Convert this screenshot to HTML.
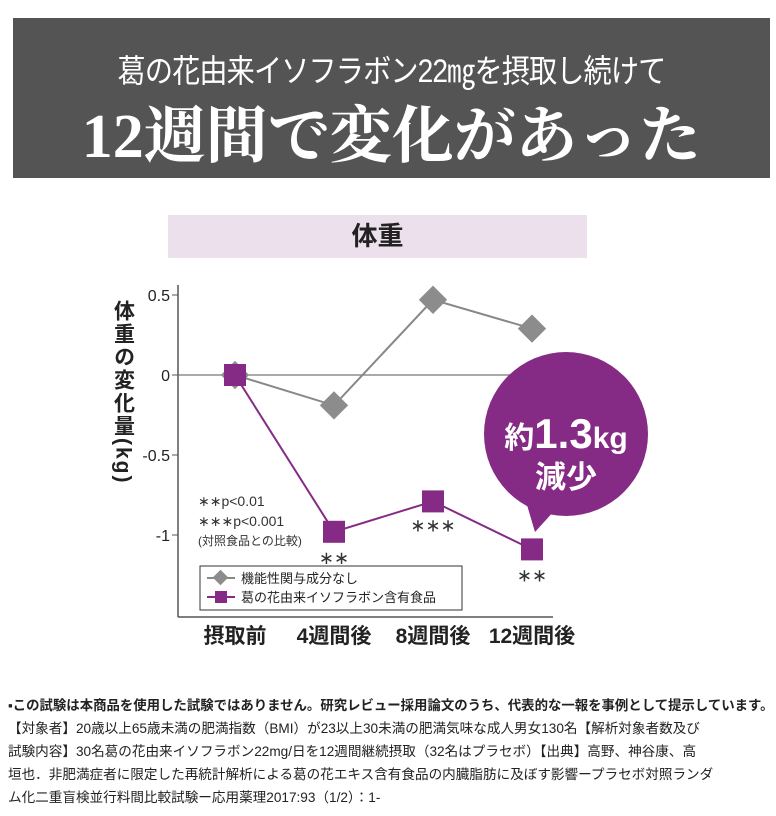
<!DOCTYPE html>
<html><head><meta charset="utf-8"><style>
body{margin:0;width:776px;height:816px;background:#fff;overflow:hidden;font-family:"Liberation Sans","Noto Sans CJK JP",sans-serif;}
#hdr{position:absolute;left:13px;top:18px;width:757px;height:160px;background:#545454;color:#fff;text-align:center;}
#sub{position:absolute;top:28px;width:100%;font-size:32px;letter-spacing:-1px;transform:scaleX(0.88);}
#ttl{position:absolute;top:68px;width:100%;font-family:"Liberation Serif","Noto Serif CJK SC",serif;font-size:62px;font-weight:bold;}
#band{position:absolute;left:168px;top:215px;width:419px;height:43px;background:#ece0ec;text-align:center;font-size:26px;font-weight:bold;line-height:43px;color:#222;}
#notes{position:absolute;left:8px;top:694px;width:776px;font-size:13.6px;color:#222;line-height:23px;white-space:nowrap;}
#notes b{font-size:13.4px;}
</style></head><body>
<div id="hdr">
<div id="sub">葛の花由来イソフラボン22㎎を摂取し続けて</div>
<div id="ttl">12週間で変化があった</div>
</div>
<div id="band">体重</div>
<svg id="chart" width="776" height="816" style="position:absolute;left:0;top:0"></svg>
<div id="notes">
<b>▪この試験は本商品を使用した試験ではありません。研究レビュー採用論文のうち、代表的な一報を事例として提示しています。</b><br>
【対象者】20歳以上65歳未満の肥満指数（BMI）が23以上30未満の肥満気味な成人男女130名【解析対象者数及び<br>
試験内容】30名葛の花由来イソフラボン22mg/日を12週間継続摂取（32名はプラセボ）【出典】高野、神谷康、高<br>
垣也．非肥満症者に限定した再統計解析による葛の花エキス含有食品の内臓脂肪に及ぼす影響ープラセボ対照ランダ<br>
ム化二重盲検並行料間比較試験ー応用薬理2017:93（1/2）：1-
</div>
<script>
const categories=["摂取前","4週間後","8週間後","12週間後"];
const controlValues=[0,-0.19,0.47,0.29];
const isoValues=[0,-0.98,-0.79,-1.09];
const yTicks=[0.5,0,-0.5,-1];
const yTickLabels=["0.5","0","-0.5","-1"];
const sigLabels=["","**","***","**"];
const NS="http://www.w3.org/2000/svg";
const svg=document.getElementById('chart');
function xs(i){return 235+i*99;}
function ys(v){return 375-v*160;}
function mk(t,a,txt){const e=document.createElementNS(NS,t);for(const k in a)e.setAttribute(k,a[k]);if(txt!=null)e.textContent=txt;svg.appendChild(e);return e;}
let e;
e=mk('line',{x1:178,y1:285,x2:178,y2:617,stroke:'#555','stroke-width':1.5});


e=mk('line',{x1:178,y1:617,x2:553,y2:617,stroke:'#555','stroke-width':1.5});


e=mk('line',{x1:178,y1:ys(0),x2:553,y2:ys(0),stroke:'#777','stroke-width':1.2});


yTicks.forEach((v,i)=>{
 e=mk('line',{x1:172,y1:ys(v),x2:178,y2:ys(v),stroke:'#555'});
 
 
 e=mk('text',{x:170,y:ys(v)+6,'text-anchor':'end','font-size':16,fill:'#222'},yTickLabels[i]);
 
 
});
categories.forEach((c,i)=>{
 e=mk('text',{x:xs(i),y:643,'text-anchor':'middle','font-size':21,'font-weight':'bold',fill:'#222'},c);
 
 
});
e=mk('text',{x:0,y:0,'font-size':21,'font-weight':'bold',fill:'#222','writing-mode':'tb',transform:'translate(123,300)','letter-spacing':'2'},'体重の変化量(kg)');


e=mk('polyline',{points:controlValues.map((v,i)=>xs(i)+','+ys(v)).join(' '),fill:'none',stroke:'#888','stroke-width':2});


e=mk('polyline',{points:isoValues.map((v,i)=>xs(i)+','+ys(v)).join(' '),fill:'none',stroke:'#862b85','stroke-width':2});


controlValues.forEach((v,i)=>{
 e=mk('rect',{x:xs(i)-10,y:ys(v)-10,width:20,height:20,fill:'#8c8c8c',transform:`rotate(45 ${xs(i)} ${ys(v)})`});
 
 
});
e=mk('path',{d:'M527,505 L535,532 L555,510 Z',fill:'#862b85'});


e=mk('circle',{cx:566,cy:434,r:82,fill:'#862b85'});


e=mk('text',{x:566,y:448,'text-anchor':'middle',fill:'#fff','font-weight':'bold','font-size':30},'');
e.innerHTML='<tspan font-size="30">約</tspan><tspan font-size="42">1.3</tspan><tspan font-size="30">kg</tspan>';


e=mk('text',{x:566,y:488,'text-anchor':'middle',fill:'#fff','font-weight':'bold','font-size':31},'減少');


isoValues.forEach((v,i)=>{
 e=mk('rect',{x:xs(i)-11,y:ys(v)-11,width:22,height:22,fill:'#862b85'});
 
 
 if(sigLabels[i]){
  e=mk('text',{x:xs(i),y:ys(v)+(i==2?30:32),'text-anchor':'middle','font-size':18,fill:'#333'},sigLabels[i].replace(/\*/g,'∗'));
  
  
 }
});
[['∗∗p<0.01',506],['∗∗∗p<0.001',526],['(対照食品との比較)',545]].forEach(([t,y])=>{
 e=mk('text',{x:198,y:y,'font-size':t.startsWith('(')?12:14,fill:'#333'},t);
 
 
});
e=mk('rect',{x:200,y:566,width:262,height:44,fill:'#fff',stroke:'#333','stroke-width':1});


e=mk('line',{x1:207,y1:578,x2:235,y2:578,stroke:'#888','stroke-width':2});


e=mk('rect',{x:215,y:572,width:11,height:11,fill:'#8c8c8c',transform:'rotate(45 220.5 577.5)'});


e=mk('text',{x:241,y:583,'font-size':13,fill:'#222'},'機能性関与成分なし');


e=mk('line',{x1:207,y1:597,x2:235,y2:597,stroke:'#862b85','stroke-width':2});


e=mk('rect',{x:215,y:591,width:12,height:12,fill:'#862b85'});


e=mk('text',{x:241,y:602,'font-size':13,fill:'#222'},'葛の花由来イソフラボン含有食品');


</script>
</body></html>
